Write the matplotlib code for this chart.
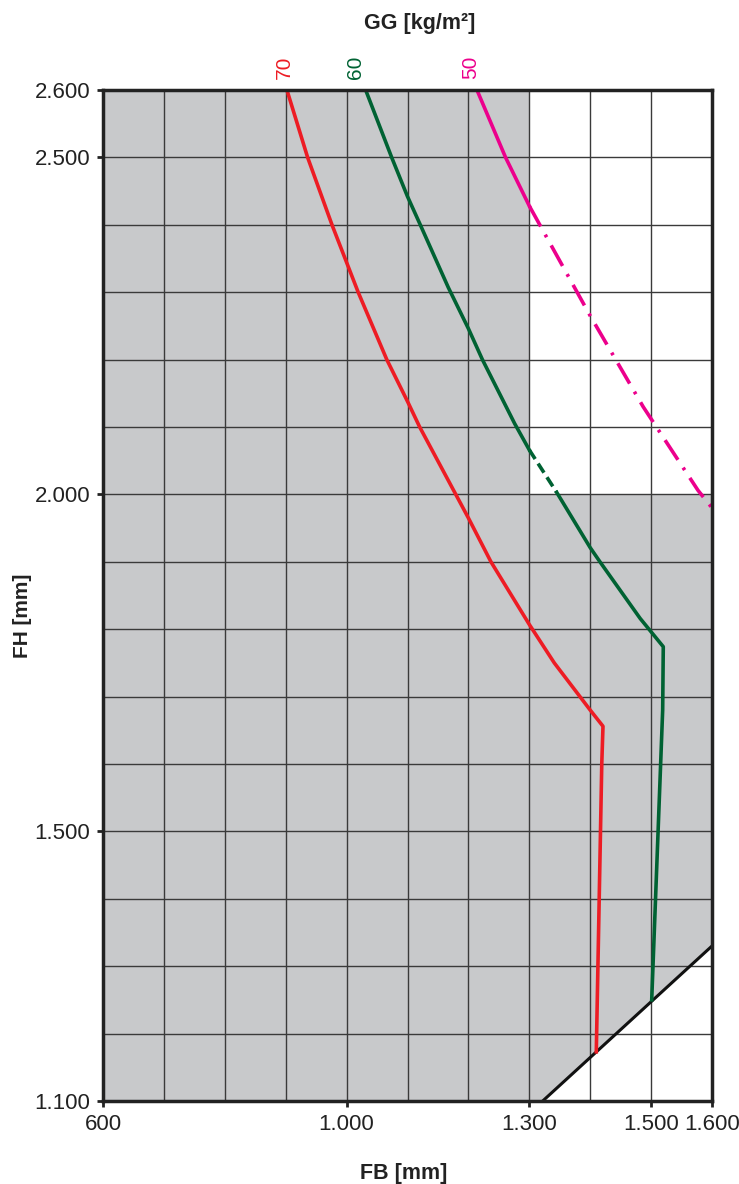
import matplotlib
matplotlib.use("Agg")
import matplotlib.pyplot as plt
from matplotlib.patches import Polygon

plt.rcParams['font.family'] = ['Liberation Sans', 'DejaVu Sans']

# curve data (FB [mm], FH [mm])
red70_x = [902, 936, 976, 1019, 1066, 1100, 1120, 1200, 1237, 1300, 1341,
           1400, 1421, 1419, 1410]
red70_y = [2600, 2500, 2400, 2300, 2200, 2138, 2100, 1965, 1900, 1807, 1750,
           1680, 1656, 1600, 1173]

green60_top_x = [1033, 1074, 1100, 1121, 1167, 1200, 1223, 1276, 1300]
green60_top_y = [2596, 2500, 2442, 2400, 2307, 2246, 2200, 2105, 2066]
green60_dash_x = [1300, 1345]
green60_dash_y = [2066, 2003]
green60_bot_x = [1345, 1400, 1416, 1482, 1520, 1519, 1501]
green60_bot_y = [2003, 1921, 1900, 1816, 1774, 1680, 1250]

mag50_top_x = [1215, 1261, 1300]
mag50_top_y = [2598, 2500, 2428]
mag50_dash_x = [1300, 1400, 1487, 1577, 1600]
mag50_dash_y = [2428, 2265, 2130, 2006, 1980]

# shaded region and its lower right border
region_x = [600, 1322, 1600, 1600, 1300, 1300, 600]
region_y = [1100, 1100, 1330, 2000, 2000, 2600, 2600]
limit_x = [1322, 1600]
limit_y = [1100, 1330]

curve_labels = ["70", "60", "50"]
curve_label_x = [898, 1014, 1203]
curve_colors = ["#ed1c24", "#006233", "#ec008c"]

xticks = [600, 1000, 1300, 1500, 1600]
yticks = [1100, 1500, 2000, 2500, 2600]


def de(v):
    return "{:,}".format(v).replace(",", ".")


fig = plt.figure(figsize=(7.39, 11.84), dpi=100)
ax = fig.add_axes([103 / 739, 1 - 1101 / 1184, 609 / 739, 1011 / 1184])

ax.add_patch(Polygon(list(zip(region_x, region_y)), closed=True,
                     facecolor="#c8c9cb", edgecolor="none", zorder=0))

for v in range(700, 1600, 100):
    ax.axvline(v, color="#3a3a3a", lw=1.0, zorder=1)
for v in range(1200, 2600, 100):
    ax.axhline(v, color="#3a3a3a", lw=1.0, zorder=1)

ax.plot(limit_x, limit_y, color="#111111", lw=2.2, zorder=2)

kw = dict(lw=2.6, solid_joinstyle="round", zorder=3)
ax.plot(red70_x, red70_y, color=curve_colors[0], **kw)
ax.plot(green60_top_x, green60_top_y, color=curve_colors[1], **kw)
ax.plot(green60_dash_x, green60_dash_y, color=curve_colors[1],
        dashes=(3, 1.5), **kw)
ax.plot(green60_bot_x, green60_bot_y, color=curve_colors[1], **kw)
ax.plot(mag50_top_x, mag50_top_y, color=curve_colors[2], **kw)
ax.plot(mag50_dash_x, mag50_dash_y, color=curve_colors[2],
        dashes=(6.5, 2.6, 0.8, 2.6), **kw)

for lab, x, c in zip(curve_labels, curve_label_x, curve_colors):
    ax.text(x, 2616, lab, rotation=90, color=c, fontsize=15,
            ha="center", va="bottom")

ax.set_xlim(600, 1600)
ax.set_ylim(1100, 2600)
ax.set_xticks(xticks)
ax.set_xticklabels([de(v) for v in xticks])
ax.set_yticks(yticks)
ax.set_yticklabels([de(v) for v in yticks])
ax.tick_params(direction="out", length=4, width=2, labelsize=16, pad=5,
               colors="#222222", labelcolor="#222222")

for s in ax.spines.values():
    s.set_linewidth(2.5)
    s.set_color("#222222")
    s.set_zorder(4)

fig.text(420 / 739, 1 - 24 / 1184, "GG [kg/m²]", ha="center", va="center",
         fontsize=15.5, fontweight="bold", color="#222222")
fig.text(404 / 739, 1 - 1173 / 1184, "FB [mm]", ha="center", va="center",
         fontsize=15.5, fontweight="bold", color="#222222")
fig.text(22 / 739, 1 - 616 / 1184, "FH [mm]", ha="center", va="center",
         rotation=90, fontsize=15, fontweight="bold", color="#222222")

fig.savefig("out.png", dpi=100, facecolor="white")
